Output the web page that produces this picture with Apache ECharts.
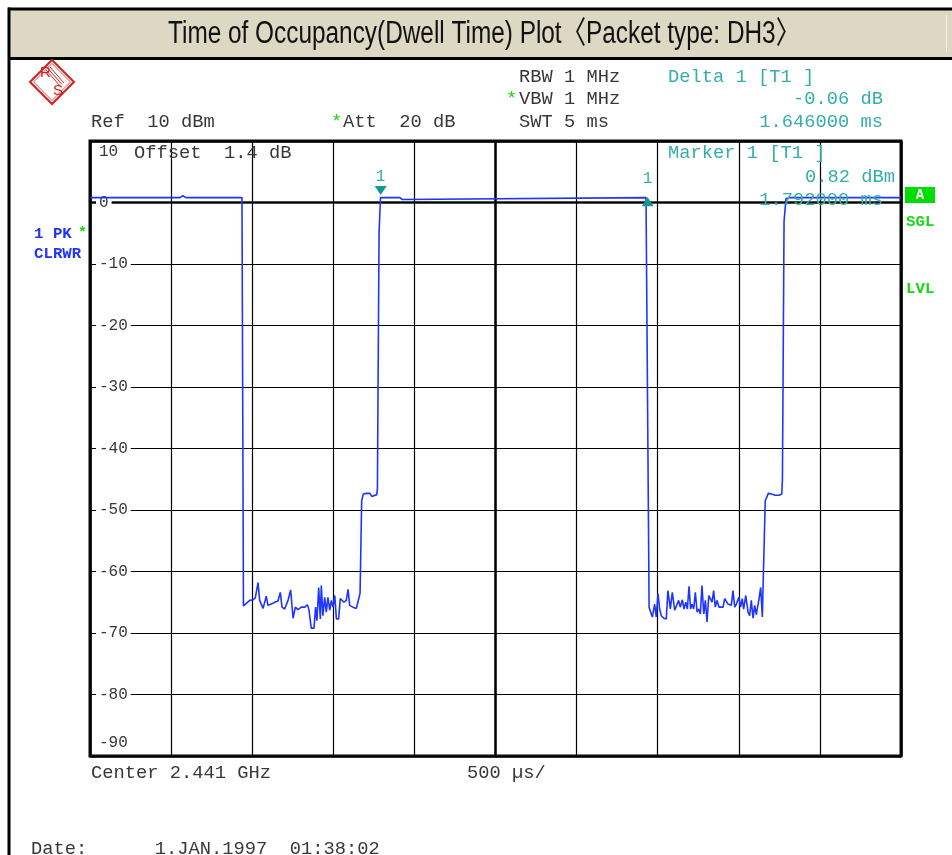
<!DOCTYPE html>
<html>
<head>
<meta charset="utf-8">
<script src="https://cdn.jsdelivr.net/npm/echarts@6/dist/echarts.min.js"></script>
<style>
html,body{margin:0;padding:0;background:#fff;}
#chart{width:952px;height:855px;}
</style>
</head>
<body>
<div id="chart"></div>
<script>
// ---------------- DATA (time in ms, level in dBm) ----------------
const carrierOn1 = [[0,0.8],[0.555,0.8],[0.573,1.1],[0.592,0.8],[0.937,0.8]];
const offNoise1 = [[0.946,-65.6],[0.957,-65.6],[0.985,-64.7],[1.005,-64.6],[1.019,-64.3],[1.036,-61.8],[1.046,-64.7],[1.067,-66.0],[1.087,-64.0],[1.097,-65.5],[1.118,-65.3],[1.139,-65.0],[1.159,-64.8],[1.173,-63.4],[1.184,-65.8],[1.200,-66.1],[1.221,-64.7],[1.237,-63.0],[1.252,-67.6],[1.266,-65.8],[1.282,-66.2],[1.303,-65.8],[1.324,-65.8],[1.340,-65.4],[1.350,-66.2],[1.364,-69.2],[1.381,-69.2],[1.391,-65.8],[1.399,-68.0],[1.410,-62.6],[1.420,-67.7],[1.426,-62.3],[1.436,-67.2],[1.447,-64.2],[1.457,-66.6],[1.467,-64.2],[1.478,-66.3],[1.488,-64.7],[1.498,-65.8],[1.509,-63.9],[1.519,-67.7],[1.533,-67.7],[1.543,-64.4],[1.554,-64.2],[1.566,-65.0],[1.580,-64.7],[1.591,-62.9],[1.601,-65.5],[1.621,-65.8],[1.642,-66.0],[1.657,-64.4],[1.665,-63.5]];
const rampUp1 = [[1.675,-48.5],[1.685,-47.4],[1.705,-47.3],[1.715,-47.6],[1.726,-47.3],[1.737,-47.8],[1.747,-47.5],[1.768,-47.5],[1.772,-46.5],[1.782,-5.0]];
const carrierOn2 = [[1.791,0.82],[1.800,1.0],[1.813,0.8],[1.911,0.8],[1.924,0.5],[1.936,0.8],[3.428,0.8],[3.438,0.76]];
const offNoise2 = [[3.447,-65.8],[3.451,-65.8],[3.467,-67.4],[3.481,-65.3],[3.491,-67.4],[3.502,-63.6],[3.512,-66.1],[3.522,-67.2],[3.537,-67.6],[3.553,-67.7],[3.563,-63.1],[3.578,-66.1],[3.590,-63.4],[3.605,-66.3],[3.615,-66.5],[3.629,-64.7],[3.639,-65.8],[3.652,-64.6],[3.662,-66.1],[3.673,-65.0],[3.683,-66.1],[3.693,-62.4],[3.703,-66.1],[3.711,-65.3],[3.722,-66.1],[3.732,-63.4],[3.743,-66.6],[3.753,-66.1],[3.763,-66.9],[3.773,-62.3],[3.784,-66.9],[3.794,-64.7],[3.804,-68.2],[3.815,-63.9],[3.825,-63.9],[3.835,-65.0],[3.845,-63.1],[3.855,-65.8],[3.866,-64.7],[3.878,-65.8],[3.888,-66.1],[3.903,-65.8],[3.913,-64.4],[3.923,-64.7],[3.933,-65.3],[3.944,-65.0],[3.954,-65.5],[3.964,-63.1],[3.975,-65.8],[3.985,-65.3],[4.000,-64.2],[4.011,-65.8],[4.021,-64.4],[4.030,-66.1],[4.043,-63.9],[4.057,-66.6],[4.067,-67.2],[4.077,-64.7],[4.088,-67.6],[4.098,-65.5],[4.108,-67.0],[4.125,-64.4],[4.135,-62.6],[4.145,-67.4],[4.155,-67.2]];
const rampUp2 = [[4.163,-48.5],[4.182,-47.3],[4.203,-47.4],[4.223,-47.6],[4.234,-47.3],[4.248,-47.6],[4.265,-47.4],[4.269,-45.0],[4.279,-3.0]];
const carrierOn3 = [[4.291,0.6],[4.316,0.8],[5.0,0.8]];

const markerTimeMs = [1.792, 3.438];
const markerLevelDbm = [0.82, 0.76];
const markerNames = ['1', '1'];

const yTickMin = -90, yTickMax = 10, yTickStep = 10;
const xSweepMs = 5, xDivMs = 0.5;

// ---------------- STYLE ----------------
const MONO = '"Liberation Mono","DejaVu Sans Mono",monospace';
const GRAY = '#383838';
const TEAL = '#34aea9';
const GREEN = '#14d814';
const BLUE = '#1f35ff';
const RED = '#d42020';

function measure(font, text){
  const c = document.createElement('canvas').getContext('2d');
  c.font = font; return c.measureText(text).width;
}
const monoScale = 11.25 / measure('18px ' + MONO, 'M');

function txt(text, x, y, o){
  o = o || {};
  return { type:'text', x:x, y:y, scaleX:(o.scale!=null?o.scale:monoScale), z:50, silent:true,
    style:{ text:text, fill:o.color||GRAY, font:o.font||('18px '+MONO), align:o.align||'left', verticalAlign:'middle' } };
}

const TITLE = 'Time of Occupancy(Dwell Time) Plot\u3008Packet type: DH3\u3009';
const TITLE_FONT = '31px "Liberation Sans Narrow","Liberation Sans","Noto Sans CJK KR",sans-serif';
const titleScale = 632 / measure(TITLE_FONT, TITLE);

const trace = [].concat(carrierOn1, offNoise1, rampUp1, carrierOn2, offNoise2, rampUp2, carrierOn3);

const chart = echarts.init(document.getElementById('chart'), null, {renderer:'canvas'});

const option = {
  animation:false,
  backgroundColor:'#fff',
  grid:{left:90, top:141, right:51, bottom:99, show:true, borderColor:'#000', borderWidth:3, z:0},
  xAxis:[
    {type:'value', min:0, max:xSweepMs, interval:xDivMs, z:1,
     axisLine:{show:false}, axisTick:{show:false}, axisLabel:{show:false},
     splitLine:{show:true, lineStyle:{color:'#000', width:1.2}}},
    {type:'value', min:0, max:xSweepMs, interval:xSweepMs/2, z:0, position:'bottom',
     axisLine:{show:false}, axisTick:{show:false}, axisLabel:{show:false},
     splitLine:{show:true, lineStyle:{color:'#111', width:2.6}}}
  ],
  yAxis:[
    {type:'value', min:yTickMin, max:yTickMax, interval:yTickStep, z:1,
     axisLine:{show:false}, axisTick:{show:false},
     splitLine:{show:true, lineStyle:{color:'#000', width:1.2}},
     axisLabel:{show:true, inside:true, margin:6, color:GRAY, fontFamily:MONO, fontSize:16,
       formatter:function(v){
         if (v === yTickMax) return '{t|' + v + '}';
         if (v === yTickMin) return '{b|' + v + '}';
         return '{a|' + v + '}';
       },
       rich:{
         a:{fontFamily:MONO, fontSize:16, color:GRAY, backgroundColor:'#fff', padding:[0,3,0,3]},
         t:{fontFamily:MONO, fontSize:16, color:GRAY, padding:[22,0,0,3]},
         b:{fontFamily:MONO, fontSize:16, color:GRAY, padding:[0,0,26,3]}
       }}},
    {type:'value', min:yTickMin, max:yTickMax, interval:90, z:0,
     axisLine:{show:false}, axisTick:{show:false}, axisLabel:{show:false},
     splitLine:{show:true, lineStyle:{color:'#111', width:2.6}}}
  ],
  series:[{
    type:'line', xAxisIndex:0, yAxisIndex:0, data:trace, showSymbol:false, z:3,
    lineStyle:{color:BLUE, width:1.6}, itemStyle:{color:BLUE},
    markPoint:{
      silent:true,
      data:[
        {coord:[markerTimeMs[0], markerLevelDbm[0]], symbol:'triangle', symbolRotate:180, symbolSize:[12,9], symbolOffset:[0,-7],
         itemStyle:{color:'#159890'},
         label:{show:true, formatter:markerNames[0], position:'top', distance:1, color:TEAL, fontFamily:MONO, fontSize:16}},
        {coord:[markerTimeMs[1], markerLevelDbm[1]], symbol:'triangle', symbolSize:[12,9], symbolOffset:[0,4],
         itemStyle:{color:'#159890'},
         label:{show:true, formatter:markerNames[1], position:'top', distance:11, color:TEAL, fontFamily:MONO, fontSize:16}}
      ]
    }
  }],
  graphic:[
    // title bar
    {type:'rect', shape:{x:8, y:8, width:950, height:51}, style:{fill:'#DDD8C3'}, z:40, silent:true},
    {type:'rect', shape:{x:8, y:7.5, width:950, height:3}, style:{fill:'#000'}, z:41, silent:true},
    {type:'rect', shape:{x:8, y:57, width:950, height:3}, style:{fill:'#000'}, z:41, silent:true},
    {type:'rect', shape:{x:7.5, y:7.5, width:3, height:850}, style:{fill:'#000'}, z:41, silent:true},
    {type:'line', shape:{x1:946.5, y1:15, x2:946.5, y2:52}, style:{stroke:'#f2efe4', lineWidth:1}, z:41, silent:true},
    txt(TITLE, 484, 34, {font:TITLE_FONT, color:'#111', align:'center', scale:titleScale}),
    // R&S logo
    {type:'polygon', shape:{points:[[30,82],[52,60],[74,82],[52,104]]}, style:{fill:'none', stroke:RED, lineWidth:2}, z:45, silent:true},
    {type:'polygon', shape:{points:[[33.5,82],[52,63.5],[70.5,82],[52,100.5]]}, style:{fill:'none', stroke:RED, lineWidth:0.8}, z:45, silent:true},
    {type:'line', shape:{x1:46, y1:70, x2:60, y2:86}, style:{stroke:RED, lineWidth:1}, z:45, silent:true},
    {type:'line', shape:{x1:48, y1:68.5, x2:62, y2:84.5}, style:{stroke:RED, lineWidth:1}, z:45, silent:true},
    {type:'line', shape:{x1:50, y1:67, x2:64, y2:83}, style:{stroke:RED, lineWidth:1}, z:45, silent:true},
    txt('R', 40, 73, {font:'15px "Liberation Sans",sans-serif', color:RED, scale:1}),
    txt('S', 53, 91, {font:'15px "Liberation Sans",sans-serif', color:RED, scale:1}),
    // header
    txt('RBW 1 MHz', 519, 77),
    txt('*', 506, 99, {color:GREEN}),
    txt('VBW 1 MHz', 519, 99),
    txt('Ref  10 dBm', 91, 122),
    txt('*', 331, 122, {color:GREEN}),
    txt('Att  20 dB', 343, 122),
    txt('SWT 5 ms', 519, 122),
    txt('Delta 1 [T1 ]', 668, 77, {color:TEAL}),
    txt('-0.06 dB', 883, 99, {color:TEAL, align:'right'}),
    txt('1.646000 ms', 883, 122, {color:TEAL, align:'right'}),
    txt('Offset  1.4 dB', 134, 153),
    txt('Marker 1 [T1 ]', 668, 153, {color:TEAL}),
    txt('0.82 dBm', 895, 177, {color:TEAL, align:'right'}),
    txt('1.792000 ms', 883, 200, {color:TEAL, align:'right'}),
    // left trace info
    txt('1 PK', 34, 234, {color:BLUE, font:'bold 15px '+MONO, scale:1.05}),
    txt('*', 78, 233, {color:GREEN, font:'bold 15px '+MONO, scale:1}),
    txt('CLRWR', 34, 254, {color:BLUE, font:'bold 15px '+MONO, scale:1.05}),
    // right status
    {type:'rect', shape:{x:905, y:187, width:30, height:16}, style:{fill:'#00dd00'}, z:45, silent:true},
    txt('A', 920, 195.5, {color:'#fff', font:'bold 14px '+MONO, align:'center', scale:1}),
    txt('SGL', 906, 222, {color:GREEN, font:'bold 15px '+MONO, scale:1.05}),
    txt('LVL', 906, 289, {color:GREEN, font:'bold 15px '+MONO, scale:1.05}),
    // footer
    txt('Center 2.441 GHz', 91, 773),
    txt('500 \u00b5s/', 467, 773),
    txt('Date:      1.JAN.1997  01:38:02', 31, 849)
  ]
};
chart.setOption(option);
</script>
</body>
</html>
